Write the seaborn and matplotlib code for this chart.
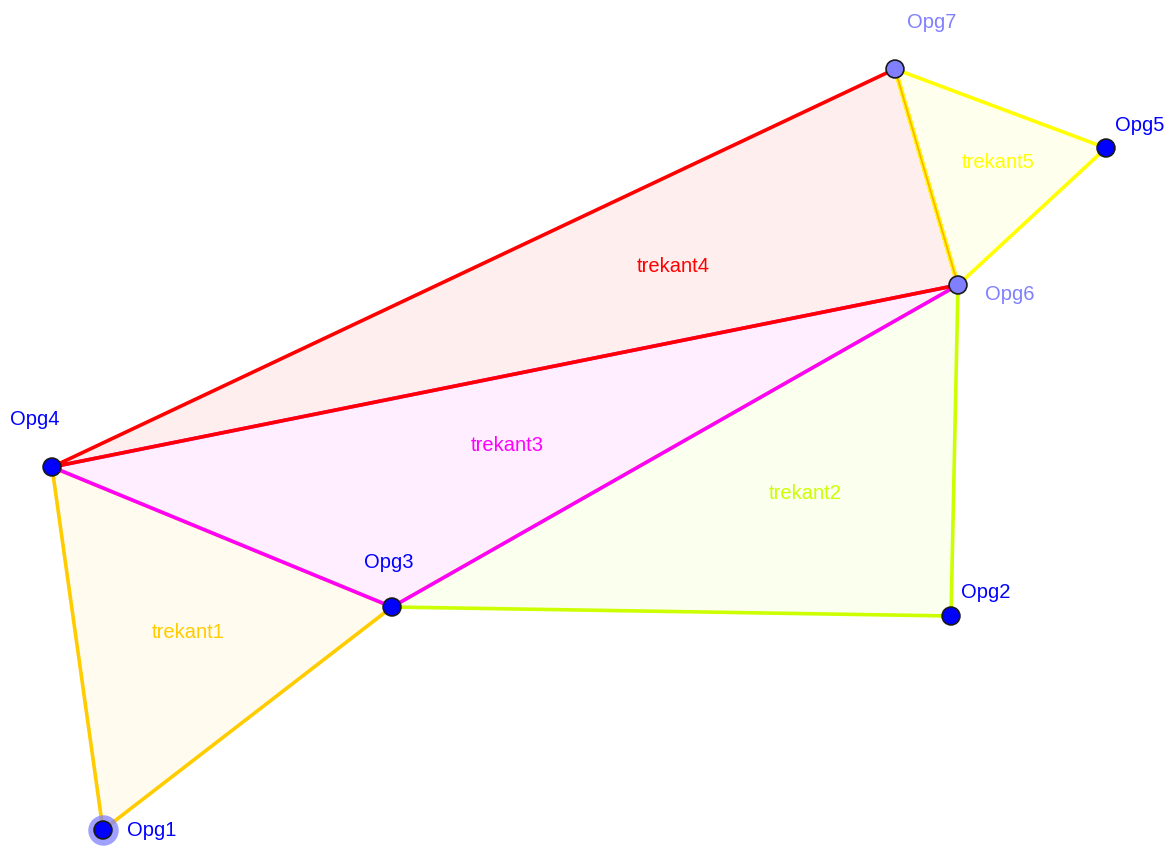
import matplotlib
matplotlib.use('Agg')
import matplotlib.pyplot as plt
import seaborn as sns
import pandas as pd

# punkter (GeoGebra-skærmkoordinater, y nedad)
punkt_navne = ['Opg1', 'Opg2', 'Opg3', 'Opg4', 'Opg5', 'Opg6', 'Opg7']
punkt_x = [103, 951, 392, 52, 1106, 958, 895]
punkt_y = [830, 616, 607, 467, 148, 285, 69]
punkt_farve = ['#0000FF', '#0000FF', '#0000FF', '#0000FF', '#0000FF', '#7F7FFF', '#7F7FFF']
label_farve = ['#0000FF', '#0000FF', '#0000FF', '#0000FF', '#0000FF', '#8080FF', '#8080FF']
label_offset = [(24, 0), (10, -24), (-28, -44), (-42, -48), (9, -23), (27, 10), (12, -47)]

# trekanter
trekant_navne = ['trekant1', 'trekant2', 'trekant3', 'trekant4', 'trekant5']
trekant_hjoerner = [['Opg1', 'Opg3', 'Opg4'],
                    ['Opg3', 'Opg2', 'Opg6'],
                    ['Opg4', 'Opg3', 'Opg6'],
                    ['Opg4', 'Opg6', 'Opg7'],
                    ['Opg7', 'Opg5', 'Opg6']]
trekant_farve = ['#FFCC00', '#CCFF00', '#FF00FF', '#FF0000', '#FFFF00']
trekant_label_pos = [(188, 632), (805, 493), (507, 445), (673, 266), (998, 162)]

df = pd.DataFrame({'navn': punkt_navne, 'x': punkt_x, 'y': punkt_y})
pos = dict(zip(punkt_navne, zip(punkt_x, punkt_y)))

sns.set_style('white')
plt.rcParams['font.family'] = ['Liberation Sans', 'DejaVu Sans']

fig = plt.figure(figsize=(11.76, 8.49), dpi=100)
ax = fig.add_axes([0, 0, 1, 1])

for navn, hj, farve in zip(trekant_navne, trekant_hjoerner, trekant_farve):
    xs = [pos[p][0] for p in hj]
    ys = [pos[p][1] for p in hj]
    ax.fill(xs, ys, color=farve, alpha=0.065, lw=0)
    ax.plot(xs + xs[:1], ys + ys[:1], color=farve, lw=2.6, solid_capstyle='round', zorder=2)

# fælles kant Opg7-Opg6 (gul med orange midte)
ax.plot([pos['Opg7'][0], pos['Opg6'][0]], [pos['Opg7'][1], pos['Opg6'][1]],
        color='#FFFF00', lw=3.2, zorder=3)
ax.plot([pos['Opg7'][0], pos['Opg6'][0]], [pos['Opg7'][1], pos['Opg6'][1]],
        color='#FFB400', lw=1.3, zorder=3)

for navn, (tx, ty), farve in zip(trekant_navne, trekant_label_pos, trekant_farve):
    ax.text(tx, ty, navn, color=farve, fontsize=14.5, ha='center', va='center', zorder=4)

# markeret punkt Opg1 (halo)
ax.scatter([pos['Opg1'][0]], [pos['Opg1'][1]], s=480, color='#8080FF', alpha=0.75, lw=0, zorder=4)

sns.scatterplot(data=df, x='x', y='y', hue='navn', palette=dict(zip(punkt_navne, punkt_farve)),
                s=165, edgecolor='#1a1a1a', linewidth=1.2, legend=False, ax=ax, zorder=5)

for navn, x, y, farve, (dx, dy) in zip(punkt_navne, punkt_x, punkt_y, label_farve, label_offset):
    ax.text(x + dx, y + dy, navn, color=farve, fontsize=14.5, ha='left', va='center', zorder=6)

ax.set_xlim(0, 1176)
ax.set_ylim(849, 0)
ax.axis('off')

fig.savefig('out.png', dpi=100, facecolor='white')
